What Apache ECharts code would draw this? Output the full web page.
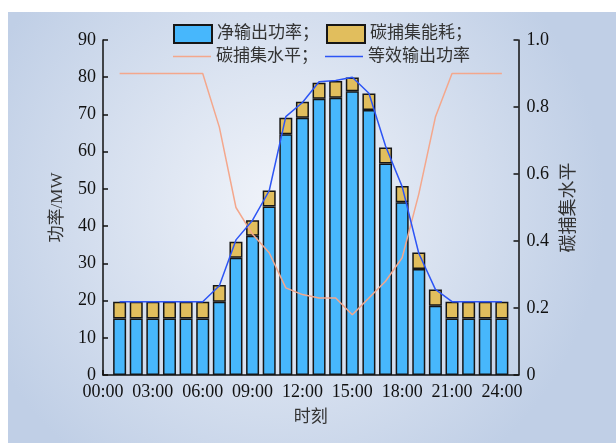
<!DOCTYPE html>
<html>
<head>
<meta charset="utf-8">
<script src="https://cdn.jsdelivr.net/npm/echarts@6/dist/echarts.min.js"></script>
<style>
  html, body { margin: 0; padding: 0; background: #ffffff; }
  #chart { width: 616px; height: 443px; }
</style>
</head>
<body>
<div id="chart"></div>
<script>
// 时段 1..24 h (category index on the 0..25 axis)
var hours = [1, 2, 3, 4, 5, 6, 7, 8, 9, 10, 11, 12, 13, 14, 15, 16, 17, 18, 19, 20, 21, 22, 23, 24]
// 净输出功率 / MW
var netPower = [15.2, 15.2, 15.2, 15.2, 15.2, 15.2, 19.7, 31.5, 37.4, 45.3, 64.7, 69.1,
  74.2, 74.5, 76.2, 71.2, 56.8, 46.4, 28.5, 18.6, 15.2, 15.2, 15.2, 15.2]
// 碳捕集能耗 / MW
var captureEnergy = [4.5, 4.5, 4.5, 4.5, 4.5, 4.5, 4.5, 4.3, 4.2, 4.3, 4.4, 4.3,
  4.3, 4.5, 3.7, 4.4, 4.3, 4.4, 4.4, 4.4, 4.5, 4.5, 4.5, 4.5]
// 等效输出功率 / MW
var equivPower = [19.7, 19.7, 19.7, 19.7, 19.7, 19.7, 24.0, 36.3, 41.6, 49.5, 69.4, 73.2,
  78.8, 79.1, 80.0, 75.7, 61.5, 50.6, 32.7, 23.0, 19.7, 19.7, 19.7, 19.7]
// 碳捕集水平
var captureLevel = [0.9, 0.9, 0.9, 0.9, 0.9, 0.9, 0.74, 0.5, 0.42, 0.365, 0.26, 0.24,
  0.23, 0.23, 0.18, 0.23, 0.28, 0.35, 0.54, 0.77, 0.9, 0.9, 0.9, 0.9]
// x 轴类目 0..25 h
var timeCats = ['00:00', '01:00', '02:00', '03:00', '04:00', '05:00', '06:00', '07:00', '08:00',
  '09:00', '10:00', '11:00', '12:00', '13:00', '14:00', '15:00', '16:00', '17:00', '18:00',
  '19:00', '20:00', '21:00', '22:00', '23:00', '24:00', '25:00']

var font = '"Liberation Serif", "Noto Sans CJK SC", serif'
var lineIcon = 'path://M0,0h38v1.6h-38z'

function pairs(arr) {
  return hours.map(function(h, i) { return [h, arr[i]] })
}
function everyThird(index) {
  return index % 3 === 0 && index <= 24
}

var myChart = echarts.init(document.getElementById('chart'))

var barBorder = { borderColor: '#161616', borderWidth: 1.5 }
var axisStyle = { color: '#111111', width: 1.5 }

var option = {
  backgroundColor: '#ffffff',
  textStyle: { fontFamily: font },
  graphic: [{
    type: 'rect',
    z: -100,
    silent: true,
    shape: { x: 8, y: 12, width: 608, height: 431 },
    style: {
      fill: {
        type: 'radial', x: 0.45, y: 0.45, r: 0.75,
        colorStops: [
          { offset: 0, color: '#f1f4fa' },
          { offset: 1, color: '#c0cfe6' }
        ]
      }
    }
  }],
  legend: [{
    left: 168,
    top: 19,
    itemWidth: 38,
    itemHeight: 18,
    itemGap: 7,
    textStyle: { fontSize: 17, color: '#333333', fontFamily: font },
    formatter: function(name) { return name + '；' },
    data: [{ name: '净输出功率', icon: 'rect' }, { name: '碳捕集能耗', icon: 'rect' }]
  }, {
    left: 168,
    top: 43,
    itemWidth: 38,
    itemHeight: 18,
    itemGap: 7,
    textStyle: { fontSize: 17, color: '#333333', fontFamily: font },
    formatter: function(name) { return name === '碳捕集水平' ? name + '；' : name },
    data: [{ name: '碳捕集水平', icon: lineIcon }, { name: '等效输出功率', icon: lineIcon }]
  }],
  grid: {
    left: 103,
    right: 97.5,
    top: 40,
    bottom: 68
  },
  xAxis: {
    type: 'category',
    boundaryGap: false,
    data: timeCats,
    name: '时刻',
    nameLocation: 'middle',
    nameGap: 34,
    nameTextStyle: { fontSize: 17, color: '#333333', fontFamily: font },
    axisLine: { show: true, lineStyle: axisStyle },
    axisTick: { show: true, inside: true, length: 5, interval: everyThird, lineStyle: axisStyle },
    axisLabel: { fontSize: 18, color: '#111111', margin: 8, interval: everyThird },
    splitLine: { show: false }
  },
  yAxis: [{
    type: 'value',
    min: 0,
    max: 90,
    interval: 10,
    name: '功率/MW',
    nameLocation: 'middle',
    nameRotate: 90,
    nameGap: 37,
    nameTextStyle: { fontSize: 17, color: '#333333', fontFamily: font },
    axisLine: { show: true, lineStyle: axisStyle },
    axisTick: { show: true, inside: true, length: 5, lineStyle: axisStyle },
    axisLabel: { fontSize: 18, color: '#111111', margin: 7 },
    splitLine: { show: false }
  }, {
    type: 'value',
    min: 0,
    max: 1,
    interval: 0.2,
    position: 'right',
    name: '碳捕集水平',
    nameLocation: 'middle',
    nameRotate: 90,
    nameGap: 40,
    nameTextStyle: { fontSize: 18, color: '#333333', fontFamily: font },
    axisLine: { show: true, lineStyle: axisStyle },
    axisTick: { show: true, inside: true, length: 5, lineStyle: axisStyle },
    axisLabel: {
      fontSize: 18,
      color: '#111111',
      margin: 8,
      formatter: function(v) { return v === 0 ? '0' : v.toFixed(1) }
    },
    splitLine: { show: false }
  }],
  series: [{
    name: '净输出功率',
    type: 'bar',
    stack: 'power',
    barWidth: 13,
    itemStyle: Object.assign({ color: '#47b7fc' }, barBorder),
    data: pairs(netPower)
  }, {
    name: '碳捕集能耗',
    type: 'bar',
    stack: 'power',
    barWidth: 13,
    itemStyle: Object.assign({ color: '#e1be5d' }, barBorder),
    data: pairs(captureEnergy)
  }, {
    name: '碳捕集水平',
    type: 'line',
    yAxisIndex: 1,
    symbol: 'none',
    z: 5,
    lineStyle: { color: '#f4a78c', width: 1.5 },
    itemStyle: { color: '#f4a78c' },
    data: pairs(captureLevel)
  }, {
    name: '等效输出功率',
    type: 'line',
    symbol: 'none',
    z: 6,
    lineStyle: { color: '#2d55f5', width: 1.5 },
    itemStyle: { color: '#2d55f5' },
    data: pairs(equivPower)
  }]
}

myChart.setOption(option, true)
window.addEventListener('resize', function() {
  myChart.resize()
})
</script>
</body>
</html>
